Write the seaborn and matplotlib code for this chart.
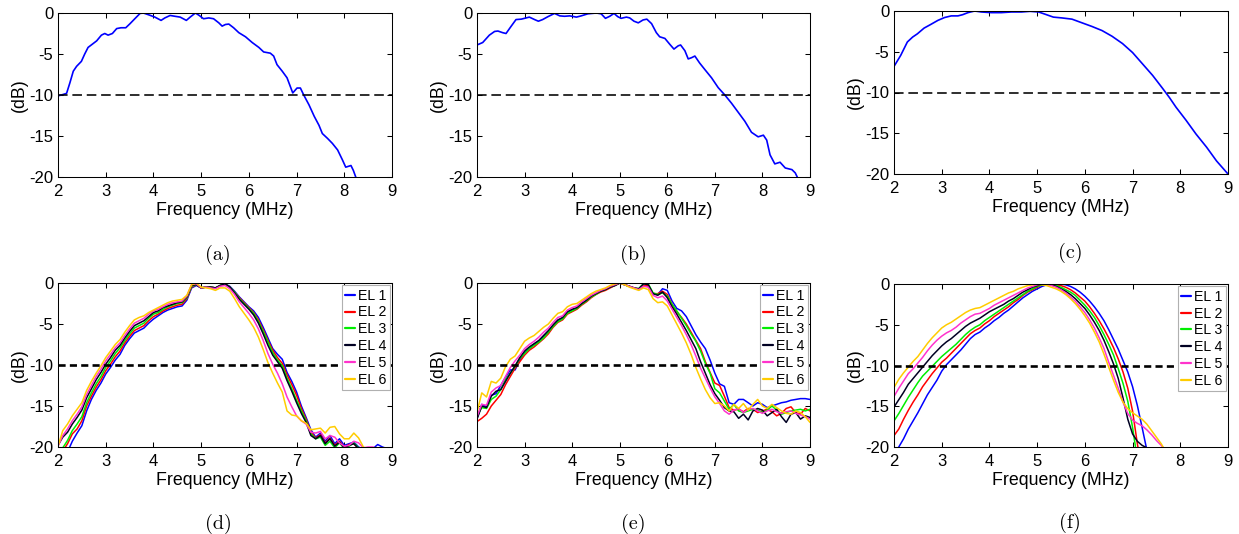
import matplotlib
matplotlib.use("Agg")
import matplotlib.pyplot as plt
import numpy as np
import pandas as pd
import seaborn as sns

# ---------------- data ----------------
# (a) single element, measured
freq_a = [2.00, 2.07, 2.18, 2.25, 2.32, 2.39, 2.49, 2.56, 2.63, 2.72, 2.81, 2.91,
          2.98, 3.05, 3.14, 3.23, 3.32, 3.42, 3.51, 3.61, 3.72, 3.79, 3.89, 4.03,
          4.16, 4.24, 4.35, 4.45, 4.56, 4.69, 4.77, 4.88, 4.96, 5.05, 5.16, 5.26,
          5.37, 5.44, 5.51, 5.58, 5.68, 5.79, 5.93, 6.07, 6.21, 6.31, 6.45, 6.52,
          6.59, 6.70, 6.80, 6.92, 7.01, 7.08, 7.15, 7.26, 7.37, 7.47, 7.54, 7.65,
          7.75, 7.86, 7.96, 8.03, 8.14, 8.19, 8.24, 8.28]
db_a = [-10.1, -10.0, -9.8, -8.5, -7.1, -6.5, -5.9, -5.0, -4.2, -3.8, -3.4, -2.7,
        -2.5, -2.7, -2.5, -1.9, -1.8, -1.8, -1.3, -0.7, -0.05, 0.0, -0.2, -0.5,
        -0.9, -0.6, -0.3, -0.4, -0.5, -0.9, -0.5, 0.0, -0.3, -0.7, -0.6, -0.7,
        -1.2, -1.6, -1.4, -1.35, -1.8, -2.4, -2.9, -3.6, -4.2, -4.75, -4.9, -5.25,
        -6.3, -7.1, -7.9, -9.75, -9.15, -9.15, -10.0, -11.2, -12.6, -13.7, -14.7, -15.3,
        -15.9, -16.7, -17.9, -18.8, -18.6, -19.2, -20.0, -20.6]

# (b) single element, measured
freq_b = [2.00, 2.12, 2.26, 2.37, 2.44, 2.54, 2.61, 2.72, 2.82, 2.93, 3.00, 3.10,
          3.21, 3.29, 3.38, 3.49, 3.63, 3.74, 3.84, 3.95, 4.09, 4.19, 4.33, 4.51,
          4.61, 4.70, 4.79, 4.88, 4.96, 5.03, 5.14, 5.21, 5.30, 5.39, 5.49, 5.57,
          5.67, 5.77, 5.84, 5.95, 6.05, 6.14, 6.23, 6.28, 6.37, 6.44, 6.51, 6.58,
          6.68, 6.79, 6.93, 7.07, 7.21, 7.35, 7.49, 7.63, 7.77, 7.91, 8.02, 8.09,
          8.16, 8.26, 8.37, 8.48, 8.62, 8.69, 8.74, 8.79]
db_b = [-3.9, -3.6, -2.7, -2.25, -2.2, -2.4, -2.5, -1.6, -0.8, -0.75, -0.65, -0.5,
        -0.8, -1.0, -0.8, -0.45, -0.05, -0.35, -0.4, -0.35, -0.5, -0.35, -0.1, 0.0,
        -0.1, -0.65, -0.4, -0.05, -0.45, -0.65, -0.5, -0.6, -1.0, -1.2, -0.85, -0.75,
        -1.3, -2.4, -2.9, -3.1, -3.8, -4.4, -4.0, -3.9, -4.6, -5.6, -5.45, -5.25,
        -6.1, -6.9, -7.9, -9.1, -10.0, -11.0, -12.1, -13.2, -14.55, -15.1, -14.9, -15.5,
        -17.3, -18.4, -18.2, -18.9, -19.1, -19.5, -20.1, -20.7]

# (c) single element, simulated
freq_c = [2.00, 2.14, 2.28, 2.39, 2.49, 2.63, 2.77, 2.92, 3.06, 3.20, 3.34, 3.44,
          3.55, 3.69, 3.83, 4.04, 4.25, 4.46, 4.67, 4.85, 5.03, 5.17, 5.34, 5.52,
          5.73, 5.94, 6.15, 6.36, 6.57, 6.79, 7.00, 7.21, 7.42, 7.63, 7.77, 7.91,
          8.12, 8.33, 8.55, 8.76, 9.00]
db_c = [-6.8, -5.45, -3.8, -3.2, -2.8, -2.1, -1.65, -1.15, -0.8, -0.6, -0.6, -0.45,
        -0.2, 0.0, -0.12, -0.2, -0.2, -0.12, -0.12, -0.04, -0.12, -0.4, -0.75, -0.85,
        -1.0, -1.45, -1.9, -2.4, -3.1, -4.0, -5.1, -6.5, -7.9, -9.5, -10.6, -11.8,
        -13.4, -15.1, -16.7, -18.4, -20.0]

# bottom row: six array elements sampled every 0.1 MHz
freq_grid = [2.0, 2.1, 2.2, 2.3, 2.4, 2.5, 2.6, 2.7, 2.8, 2.9,
             3.0, 3.1, 3.2, 3.3, 3.4, 3.5, 3.6, 3.7, 3.8, 3.9,
             4.0, 4.1, 4.2, 4.3, 4.4, 4.5, 4.6, 4.7, 4.8, 4.9,
             5.0, 5.1, 5.2, 5.3, 5.4, 5.5, 5.6, 5.7, 5.8, 5.9,
             6.0, 6.1, 6.2, 6.3, 6.4, 6.5, 6.6, 6.7, 6.8, 6.9,
             7.0, 7.1, 7.2, 7.3, 7.4, 7.5, 7.6, 7.7, 7.8, 7.9,
             8.0, 8.1, 8.2, 8.3, 8.4, 8.5, 8.6, 8.7, 8.8, 8.9,
             9.0]
el_labels = ["EL 1", "EL 2", "EL 3", "EL 4", "EL 5", "EL 6"]
el_colors = ["#0000ff", "#ff0000", "#00ee00", "#000022", "#ff33cc", "#ffcc00"]

# (d)
d_el1 = [-22.0, -21.5, -20.6, -19.3, -18.3, -17.4, -15.6, -14.2, -13.1, -12.2,
         -11.1, -10.3, -9.4, -8.7, -7.6, -6.8, -6.1, -5.8, -5.5, -4.9,
         -4.4, -4.0, -3.6, -3.3, -3.1, -2.9, -2.8, -2.1, -0.6, -0.3,
         -0.6, -0.5, -0.5, -0.6, -0.3, -0.1, -0.4, -1.0, -1.7, -2.3,
         -2.9, -3.4, -4.2, -5.4, -6.7, -8.0, -8.7, -9.3, -10.9, -12.0,
         -13.3, -15.0, -16.4, -17.9, -18.8, -18.3, -19.3, -18.6, -19.6, -19.0,
         -19.8, -19.6, -19.4, -20.0, -20.3, -20.4, -20.2, -19.7, -20.0, -20.2,
         -20.4]
d_el2 = [-21.4, -20.5, -19.6, -18.4, -17.8, -16.8, -15.0, -13.8, -12.7, -11.8,
         -10.7, -9.9, -9.0, -8.3, -7.3, -6.5, -5.8, -5.5, -5.2, -4.6,
         -4.1, -3.8, -3.4, -3.1, -2.9, -2.7, -2.6, -1.9, -0.5, -0.2,
         -0.6, -0.5, -0.5, -0.6, -0.3, -0.1, -0.5, -1.1, -1.8, -2.4,
         -3.0, -3.6, -4.5, -5.7, -7.0, -8.2, -9.1, -9.8, -11.2, -12.4,
         -13.7, -15.3, -16.6, -18.2, -18.9, -18.5, -19.5, -18.9, -19.8, -19.3,
         -20.0, -19.7, -19.6, -20.2, -20.5, -20.6, -20.4, -20.3, -20.5, -20.6,
         -20.7]
d_el3 = [-21.0, -20.1, -19.2, -18.0, -17.2, -16.3, -14.6, -13.4, -12.3, -11.4,
         -10.3, -9.5, -8.6, -7.9, -7.0, -6.2, -5.5, -5.2, -4.9, -4.3,
         -3.8, -3.6, -3.2, -2.9, -2.7, -2.5, -2.4, -1.8, -0.4, -0.2,
         -0.6, -0.5, -0.5, -0.6, -0.3, -0.1, -0.5, -1.1, -1.9, -2.5,
         -3.1, -3.7, -4.7, -5.9, -7.2, -8.5, -9.4, -10.1, -11.6, -12.9,
         -14.3, -15.6, -16.8, -18.4, -19.0, -18.8, -19.8, -19.3, -20.1, -19.5,
         -20.2, -19.9, -19.5, -20.1, -20.6, -20.7, -20.6, -20.7, -20.8, -20.8,
         -20.9]
d_el4 = [-19.8, -18.8, -18.2, -17.2, -16.4, -15.5, -14.0, -12.9, -11.8, -10.9,
         -9.9, -9.1, -8.2, -7.6, -6.7, -5.9, -5.2, -4.9, -4.6, -4.1,
         -3.6, -3.4, -3.0, -2.8, -2.6, -2.4, -2.3, -1.7, -0.3, -0.2,
         -0.6, -0.5, -0.5, -0.6, -0.3, -0.1, -0.5, -1.2, -2.0, -2.6,
         -3.2, -3.9, -4.9, -6.2, -7.6, -8.8, -9.6, -10.4, -11.9, -13.2,
         -14.6, -15.9, -17.0, -18.6, -19.0, -18.6, -19.6, -19.0, -19.9, -19.4,
         -20.1, -19.8, -19.6, -20.2, -20.5, -20.6, -20.5, -20.6, -20.7, -20.8,
         -20.8]
d_el5 = [-19.9, -18.6, -17.8, -16.8, -16.0, -15.1, -13.6, -12.5, -11.4, -10.5,
         -9.5, -8.7, -7.9, -7.3, -6.4, -5.6, -4.9, -4.6, -4.3, -3.8,
         -3.4, -3.2, -2.9, -2.6, -2.4, -2.3, -2.2, -1.6, -0.2, -0.1,
         -0.6, -0.5, -0.6, -0.7, -0.4, -0.3, -0.7, -1.4, -2.3, -3.0,
         -3.7, -4.5, -5.6, -7.0, -8.6, -9.9, -11.0, -12.3, -13.9, -15.1,
         -16.2, -16.8, -17.2, -18.2, -18.3, -18.1, -19.0, -18.6, -18.8, -19.5,
         -19.9, -19.8, -19.3, -19.5, -20.1, -20.0, -20.0, -20.2, -20.4, -20.5,
         -20.7]
d_el6 = [-19.9, -18.0, -17.2, -16.2, -15.4, -14.6, -13.1, -12.0, -11.0, -10.1,
         -9.1, -8.3, -7.5, -6.9, -6.0, -5.2, -4.5, -4.2, -4.0, -3.6,
         -3.3, -3.0, -2.7, -2.4, -2.2, -2.1, -2.0, -1.5, -0.2, 0.0,
         -0.5, -0.6, -0.7, -0.9, -0.6, -0.6, -1.0, -1.9, -2.9, -3.7,
         -4.5, -5.4, -6.6, -8.1, -9.7, -11.0, -12.2, -13.3, -15.6, -16.1,
         -16.2, -16.8, -17.1, -17.9, -17.8, -17.7, -18.3, -17.6, -17.5, -18.4,
         -19.0, -19.0, -18.3, -18.9, -20.0, -20.3, -20.5, -20.6, -20.7, -20.8,
         -20.9]

# (e)
e_el1 = [-16.5, -14.8, -15.1, -13.7, -13.5, -12.5, -11.5, -10.6, -10.6, -9.4,
         -8.5, -8.0, -7.5, -7.1, -6.5, -6.0, -5.2, -4.6, -4.3, -3.6,
         -3.3, -3.1, -2.6, -2.2, -1.7, -1.3, -1.0, -0.8, -0.5, -0.3,
         0.0, -0.2, -0.4, -0.6, -0.8, -0.4, -0.4, -1.3, -1.4, -0.7,
         -0.9, -2.2, -3.1, -3.4, -4.1, -5.2, -6.3, -7.2, -8.0, -9.4,
         -11.0, -12.3, -12.6, -14.6, -14.8, -14.2, -14.2, -14.6, -15.0, -14.6,
         -14.8, -15.2, -15.0, -14.8, -14.6, -14.5, -14.3, -14.2, -14.1, -14.1,
         -14.2]
e_el2 = [-16.9, -16.5, -16.0, -15.0, -14.3, -13.6, -12.4, -11.4, -10.4, -9.6,
         -8.8, -8.2, -7.8, -7.3, -6.8, -6.2, -5.4, -4.8, -4.5, -3.8,
         -3.5, -3.2, -2.7, -2.3, -1.8, -1.4, -1.1, -0.9, -0.6, -0.3,
         0.0, -0.2, -0.4, -0.6, -0.8, -0.3, -0.3, -1.3, -1.3, -1.0,
         -1.4, -2.6, -3.5, -4.2, -5.0, -6.0, -7.0, -8.0, -9.6, -10.9,
         -12.2, -12.5, -13.8, -15.2, -15.5, -15.4, -15.7, -15.3, -15.4, -15.8,
         -15.6, -15.4, -15.7, -16.2, -15.9, -15.3, -15.1, -15.8, -16.0, -15.3,
         -15.6]
e_el3 = [-16.2, -15.2, -15.3, -14.2, -13.8, -13.0, -11.8, -11.0, -10.2, -9.2,
         -8.6, -8.0, -7.6, -7.2, -6.7, -6.0, -5.3, -4.7, -4.4, -3.7,
         -3.4, -3.1, -2.6, -2.2, -1.7, -1.4, -1.0, -0.8, -0.5, -0.3,
         0.0, -0.2, -0.4, -0.6, -0.7, -0.1, -0.1, -1.2, -1.4, -1.2,
         -1.6, -2.6, -3.4, -4.3, -5.2, -6.2, -7.1, -8.3, -9.8, -11.0,
         -12.9, -13.4, -14.4, -15.4, -14.8, -15.6, -15.8, -15.6, -15.4, -15.5,
         -15.8, -15.5, -15.0, -15.5, -16.0, -15.8, -15.6, -15.5, -15.4, -15.6,
         -15.4]
e_el4 = [-16.6, -15.0, -15.2, -13.8, -13.2, -13.0, -12.0, -11.0, -10.1, -9.1,
         -8.3, -7.8, -7.4, -7.0, -6.4, -5.8, -5.1, -4.5, -4.2, -3.5,
         -3.2, -3.0, -2.5, -2.1, -1.6, -1.3, -1.0, -0.8, -0.5, -0.3,
         0.0, -0.2, -0.4, -0.6, -0.7, -0.1, -0.2, -1.3, -1.5, -1.1,
         -1.8, -2.9, -3.8, -4.8, -5.8, -6.9, -8.0, -9.6, -11.0, -12.4,
         -13.5, -14.3, -15.2, -15.6, -15.7, -16.5, -16.0, -16.7, -15.6, -15.3,
         -15.5, -16.2, -15.8, -15.4, -16.3, -17.0, -16.0, -15.8, -16.6, -16.2,
         -16.4]
e_el5 = [-16.3, -14.8, -14.9, -13.3, -12.8, -12.5, -11.4, -10.3, -9.5, -8.8,
         -8.0, -7.5, -7.1, -6.6, -6.0, -5.5, -4.8, -4.2, -4.0, -3.3,
         -3.0, -2.8, -2.3, -1.9, -1.5, -1.2, -0.9, -0.7, -0.4, -0.2,
         0.0, -0.2, -0.4, -0.6, -0.8, -0.4, -0.5, -1.5, -1.8, -1.6,
         -2.2, -3.2, -4.2, -5.2, -6.3, -7.5, -8.9, -10.4, -11.6, -12.8,
         -13.9, -14.7, -15.6, -16.0, -15.5, -15.3, -15.8, -15.4, -15.3, -15.6,
         -15.9, -15.6, -15.4, -15.7, -15.9, -15.7, -15.6, -15.9, -16.1, -16.3,
         -16.6]
e_el6 = [-15.8, -13.4, -13.9, -12.0, -12.2, -11.6, -10.2, -9.3, -8.9, -8.0,
         -7.1, -6.7, -6.4, -5.9, -5.4, -5.0, -4.3, -3.7, -3.5, -2.9,
         -2.6, -2.5, -2.1, -1.7, -1.3, -1.0, -0.8, -0.6, -0.3, -0.1,
         0.0, -0.2, -0.5, -0.7, -0.9, -0.6, -0.8, -1.9, -2.4, -2.3,
         -2.8, -3.9, -5.0, -6.1, -7.3, -8.7, -10.3, -11.7, -13.0, -14.0,
         -14.7, -14.6, -15.0, -15.6, -14.8, -15.3, -14.7, -15.5, -14.8, -14.2,
         -15.0, -15.3, -14.8, -15.2, -15.6, -15.9, -16.0, -15.6, -15.8, -16.3,
         -17.0]

# (f) simulated, curves stop once they leave the -20 dB floor
f_el1 = [-21.3, -20.0, -19.0, -17.8, -16.8, -15.8, -14.7, -13.6, -12.7, -11.8,
         -10.7, -9.9, -9.3, -8.7, -8.1, -7.4, -6.7, -6.2, -5.9, -5.4,
         -5.0, -4.5, -4.1, -3.6, -3.2, -2.7, -2.2, -1.7, -1.3, -0.9,
         -0.6, -0.3, -0.1, 0.0, 0.0, 0.0, -0.1, -0.3, -0.6, -1.0,
         -1.5, -2.1, -2.8, -3.6, -4.5, -5.6, -6.8, -8.0, -9.4, -10.8,
         -12.6, -14.9, -17.6, -20.4]
f_el2 = [-18.6, -17.8, -16.6, -15.5, -14.5, -13.6, -12.6, -11.8, -11.0, -10.3,
         -9.6, -9.1, -8.5, -7.9, -7.3, -6.7, -6.1, -5.7, -5.4, -4.9,
         -4.5, -4.0, -3.6, -3.2, -2.8, -2.3, -1.9, -1.4, -1.0, -0.7,
         -0.4, -0.1, 0.0, 0.0, -0.1, -0.2, -0.4, -0.7, -1.1, -1.6,
         -2.1, -2.8, -3.6, -4.5, -5.5, -6.6, -7.8, -9.2, -10.8, -12.8,
         -15.6, -19.6, -23.0]
f_el3 = [-16.8, -15.9, -14.9, -13.9, -13.0, -12.1, -11.3, -10.7, -10.1, -9.5,
         -8.9, -8.4, -7.9, -7.4, -6.8, -6.2, -5.7, -5.3, -5.0, -4.5,
         -4.1, -3.7, -3.3, -2.9, -2.5, -2.1, -1.7, -1.3, -0.9, -0.6,
         -0.3, -0.1, 0.0, -0.05, -0.2, -0.4, -0.7, -1.0, -1.4, -2.0,
         -2.6, -3.3, -4.1, -5.1, -6.2, -7.4, -8.7, -10.4, -12.2, -14.4,
         -17.6, -21.5]
f_el4 = [-15.1, -14.2, -13.3, -12.3, -11.6, -10.9, -10.2, -9.5, -8.8, -8.2,
         -7.6, -7.1, -6.7, -6.2, -5.7, -5.2, -4.8, -4.5, -4.2, -3.8,
         -3.4, -3.1, -2.8, -2.5, -2.1, -1.8, -1.4, -1.0, -0.7, -0.4,
         -0.2, 0.0, 0.0, -0.1, -0.3, -0.6, -0.9, -1.3, -1.8, -2.4,
         -3.0, -3.8, -4.7, -5.7, -6.9, -8.3, -9.8, -11.6, -14.0, -16.6,
         -18.4, -19.3, -19.8, -20.1, -20.5]
f_el5 = [-13.8, -12.8, -11.9, -11.0, -10.4, -9.7, -9.0, -8.2, -7.5, -6.9,
         -6.4, -6.0, -5.7, -5.3, -4.8, -4.4, -4.0, -3.7, -3.6, -3.3,
         -3.0, -2.6, -2.3, -2.0, -1.7, -1.4, -1.1, -0.8, -0.5, -0.3,
         -0.1, 0.0, -0.1, -0.2, -0.4, -0.7, -1.1, -1.6, -2.1, -2.8,
         -3.5, -4.4, -5.4, -6.6, -7.9, -9.6, -11.2, -12.8, -14.5, -15.9,
         -16.7, -17.1, -17.4, -17.9, -18.5, -19.2, -19.8, -20.5]
f_el6 = [-12.7, -11.7, -10.9, -10.2, -9.5, -8.9, -8.1, -7.3, -6.6, -6.0,
         -5.4, -5.0, -4.7, -4.3, -3.9, -3.5, -3.2, -3.0, -2.9, -2.6,
         -2.3, -2.0, -1.7, -1.4, -1.1, -0.9, -0.6, -0.4, -0.2, -0.1,
         0.0, -0.1, -0.2, -0.4, -0.6, -0.9, -1.3, -1.8, -2.4, -3.1,
         -3.9, -4.8, -5.9, -7.1, -8.6, -10.2, -11.8, -13.3, -14.5, -15.3,
         -15.8, -16.2, -16.6, -17.2, -18.0, -18.8, -19.6, -20.6]

x_ticks = [2, 3, 4, 5, 6, 7, 8, 9]
y_ticks = [-20, -15, -10, -5, 0]
threshold_db = -10
captions = ["(a)", "(b)", "(c)", "(d)", "(e)", "(f)"]

# ---------------- style ----------------
W, H = 1239, 534
sns.set_theme(style="ticks", rc={
    "axes.edgecolor": "black", "axes.labelcolor": "black", "text.color": "black",
    "xtick.color": "black", "ytick.color": "black", "axes.linewidth": 0.75,
})
plt.rcParams["font.family"] = ["Liberation Sans", "DejaVu Sans"]
plt.rcParams["axes.unicode_minus"] = False


def add_axes_px(fig, left, top, right, bottom):
    return fig.add_axes([left / W, 1 - bottom / H, (right - left) / W, (bottom - top) / H])


def style_axes(ax):
    ax.set_xlim(2, 9)
    ax.set_ylim(-20, 0)
    ax.set_xticks(x_ticks)
    ax.set_yticks(y_ticks)
    ax.tick_params(direction="in", length=3.6, width=0.75, top=True, right=True, labelsize=12)
    ax.tick_params(axis="x", pad=5)
    ax.tick_params(axis="y", pad=3.5)
    ax.set_xlabel("Frequency (MHz)", fontsize=12.8, labelpad=2)
    ax.set_ylabel("(dB)", fontsize=12.8, labelpad=1)
    for sp in ax.spines.values():
        sp.set_visible(True)
        sp.set_color("black")
        sp.set_linewidth(0.75)


def draw_single(ax, freq, db):
    sns.lineplot(x=freq, y=db, ax=ax, color="#0000ff", linewidth=1.2,
                 sort=False, estimator=None)
    ax.axhline(threshold_db, color="black", linewidth=1.15, linestyle=(0, (6, 3)))
    style_axes(ax)


def draw_multi(ax, curves):
    frames = []
    for label, vals in zip(el_labels, curves):
        frames.append(pd.DataFrame({"freq": freq_grid[:len(vals)], "db": vals, "el": label}))
    df = pd.concat(frames, ignore_index=True)
    sns.lineplot(data=df, x="freq", y="db", hue="el", hue_order=el_labels,
                 palette=dict(zip(el_labels, el_colors)), linewidth=1.1,
                 estimator=None, sort=False, ax=ax)
    ax.axhline(threshold_db, color="black", linewidth=1.9, linestyle=(0, (2.7, 1.6)))
    style_axes(ax)

    old = ax.get_legend()
    handles = old.legend_handles
    labels = [t.get_text() for t in old.get_texts()]
    leg = ax.legend(handles, labels, loc="upper right", bbox_to_anchor=(1, 1),
                    borderaxespad=0.15, fontsize=10.2, frameon=True, fancybox=False,
                    framealpha=1, edgecolor="#b0b0b0", handlelength=0.7,
                    handletextpad=0.2, labelspacing=0.2, borderpad=0.25)
    leg.get_frame().set_linewidth(0.8)
    for h in leg.legend_handles:
        h.set_linewidth(1.6)


fig = plt.figure(figsize=(W / 100, H / 100), dpi=100)

ax_a = add_axes_px(fig, 58, 13, 392, 177)
ax_b = add_axes_px(fig, 477, 13, 810, 177)
ax_c = add_axes_px(fig, 894, 11, 1228, 174)
ax_d = add_axes_px(fig, 58, 283, 392, 447)
ax_e = add_axes_px(fig, 477, 283, 810, 447)
ax_f = add_axes_px(fig, 894, 284, 1228, 447)

draw_single(ax_a, freq_a, db_a)
draw_single(ax_b, freq_b, db_b)
draw_single(ax_c, freq_c, db_c)
draw_multi(ax_d, [d_el1, d_el2, d_el3, d_el4, d_el5, d_el6])
draw_multi(ax_e, [e_el1, e_el2, e_el3, e_el4, e_el5, e_el6])
draw_multi(ax_f, [f_el1, f_el2, f_el3, f_el4, f_el5, f_el6])

# sub-figure captions in a Computer Modern face
cap_pos = [(218, 255), (633, 255), (1070, 253), (218, 524), (633, 524), (1070, 523)]
for txt, (cx, cy) in zip(captions, cap_pos):
    fig.text(cx / W, 1 - cy / H, txt, ha="center", va="center",
             fontfamily="cmr10", fontsize=14.5)

fig.savefig("out.png", dpi=100)
